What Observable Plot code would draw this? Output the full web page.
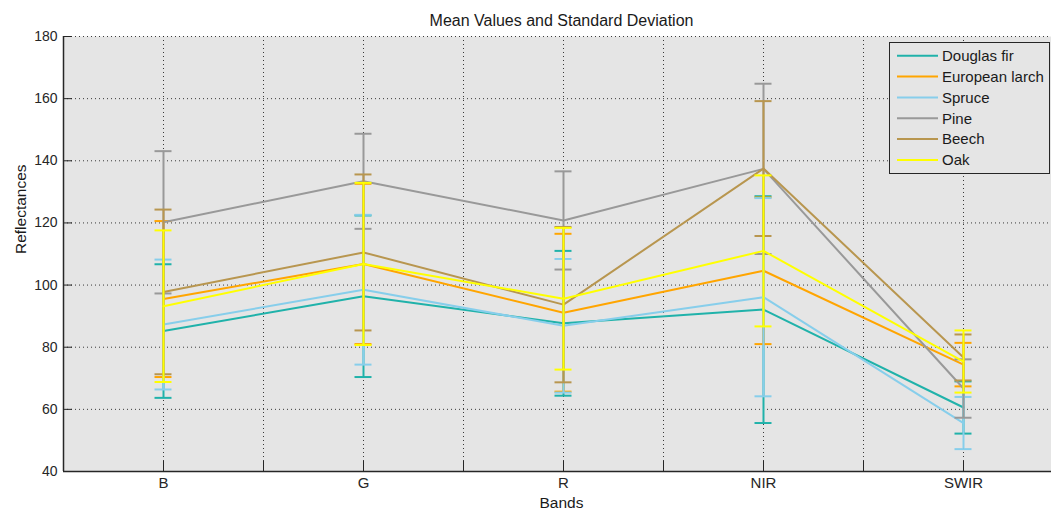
<!DOCTYPE html>
<html><head><meta charset="utf-8">
<script src="https://cdn.jsdelivr.net/npm/d3@7"></script>
<script src="https://cdn.jsdelivr.net/npm/@observablehq/plot@0.6"></script>
<style>
body{margin:0;background:#fff;}
svg{display:block;}
</style>
</head><body><div id="chart"></div>
<script>
// ---- data ----
const bands = ["B", "G", "R", "NIR", "SWIR"];
const seriesNames = ["Douglas fir", "European larch", "Spruce", "Pine", "Beech", "Oak"];
const seriesColors = ["#20b2aa", "#ffa500", "#87ceeb", "#999999", "#b8964f", "#ffff00"];

const douglasMean = [85.2, 96.4, 87.7, 92.1, 60.6];
const douglasSD   = [21.5, 26.0, 23.3, 36.5, 8.4];
const larchMean   = [95.5, 106.8, 91.1, 104.6, 74.4];
const larchSD     = [25.1, 25.8, 25.4, 23.6, 7.0];
const spruceMean  = [87.3, 98.5, 86.9, 96.1, 55.6];
const spruceSD    = [20.9, 24.1, 21.5, 31.9, 8.4];
const pineMean    = [120.2, 133.4, 120.8, 137.4, 66.7];
const pineSD      = [22.9, 15.3, 15.8, 27.4, 9.4];
const beechMean   = [97.8, 110.5, 93.7, 137.5, 76.7];
const beechSD     = [26.5, 25.1, 25.0, 21.7, 7.4];
const oakMean     = [93.2, 106.8, 95.6, 111.0, 75.4];
const oakSD       = [24.4, 26.1, 22.8, 24.3, 10.0];

const yTicks = [40, 60, 80, 100, 120, 140, 160, 180];
const xMinorTicks = [1, 1.5, 2, 2.5, 3, 3.5, 4, 4.5, 5];
const xLabelTicks = [1, 2, 3, 4, 5];

const titleText = "Mean Values and Standard Deviation";
const xLabel = "Bands";
const yLabel = "Reflectances";

// ---- build table ----
const means = [douglasMean, larchMean, spruceMean, pineMean, beechMean, oakMean];
const sds = [douglasSD, larchSD, spruceSD, pineSD, beechSD, oakSD];
const series = seriesNames.map((name, s) => ({
  name, color: seriesColors[s],
  rows: bands.map((b, i) => ({series: name, band: b, x: i + 1, mean: means[s][i], sd: sds[s][i]}))
}));

const W = 1051, H = 510, ML = 63, MR = 0, MT = 36, MB = 39;
const cap = 0.0425;
const font = "'Liberation Sans', Arial, sans-serif";

const marks = [
  Plot.frame({fill: "#e5e5e5", stroke: null}),
  Plot.gridY(yTicks, {stroke: "#1a1a1a", strokeOpacity: 0.85, strokeDasharray: "1,3"}),
  Plot.gridX(xMinorTicks, {stroke: "#1a1a1a", strokeOpacity: 0.85, strokeDasharray: "1,3"})
];
for (const s of series) {
  marks.push(Plot.ruleX(s.rows, {x: "x", y1: d => d.mean - d.sd, y2: d => d.mean + d.sd, stroke: s.color, strokeWidth: 2}));
  marks.push(Plot.ruleY(s.rows, {y: d => d.mean - d.sd, x1: d => d.x - cap, x2: d => d.x + cap, stroke: s.color, strokeWidth: 2}));
  marks.push(Plot.ruleY(s.rows, {y: d => d.mean + d.sd, x1: d => d.x - cap, x2: d => d.x + cap, stroke: s.color, strokeWidth: 2}));
  marks.push(Plot.line(s.rows, {x: "x", y: "mean", stroke: s.color, strokeWidth: 2}));
}
marks.push(
  // inward tick marks
  Plot.tickY(yTicks, {y: d => d, stroke: "#262626", insetRight: W - ML - MR - 9}),
  Plot.tickX(xMinorTicks, {x: d => d, stroke: "#262626", insetTop: H - MT - MB - 10}),
  // axis lines
  Plot.ruleX([0.5], {stroke: "#262626", strokeWidth: 1.5}),
  Plot.ruleY([40], {stroke: "#262626", strokeWidth: 1.5}),
  Plot.axisY(yTicks, {tickSize: 0, tickPadding: 6, fontSize: 14, fill: "#262626", label: null}),
  Plot.axisX(xLabelTicks, {tickSize: 0, tickPadding: 6, fontSize: 15, fill: "#262626", tickFormat: d => bands[d - 1], label: null}),
  Plot.text([titleText], {frameAnchor: "top", dx: 4, dy: -11, lineAnchor: "bottom", text: d => d, fontSize: 16, fill: "#1a1a1a"}),
  Plot.text([xLabel], {frameAnchor: "bottom", dx: 4, dy: 36, lineAnchor: "bottom", text: d => d, fontSize: 15.5, fill: "#1a1a1a"}),
  Plot.text([yLabel], {frameAnchor: "left", dx: -42, rotate: -90, text: d => d, fontSize: 15.5, fill: "#1a1a1a"})
);

const chart = Plot.plot({
  width: W, height: H,
  marginLeft: ML, marginRight: MR, marginTop: MT, marginBottom: MB,
  x: {type: "linear", domain: [0.5, 5.44], axis: null},
  y: {type: "linear", domain: [40, 180], axis: null},
  style: {fontFamily: font, background: "#ffffff", overflow: "visible"},
  marks
});
document.getElementById("chart").appendChild(chart);

// ---- legend (inside plot, top right) ----
const svg = d3.select(chart);
const lg = svg.append("g").attr("font-family", font).attr("font-size", 15).attr("text-anchor", "start");
const lx = 889, ly = 42, lw = 160, lh = 131, rowH = 20.85;
lg.append("rect").attr("x", lx + 0.5).attr("y", ly + 0.5).attr("width", lw).attr("height", lh)
  .attr("fill", "#e5e5e5").attr("stroke", "#262626");
series.forEach((s, i) => {
  const cy = ly + 13.7 + i * rowH;
  lg.append("line").attr("x1", lx + 8).attr("x2", lx + 49).attr("y1", cy).attr("y2", cy)
    .attr("stroke", s.color).attr("stroke-width", 2);
  lg.append("text").attr("x", lx + 53).attr("y", cy).attr("dy", "0.35em")
    .attr("text-anchor", "start").attr("fill", "#1a1a1a").text(s.name);
});
</script>
</body></html>
